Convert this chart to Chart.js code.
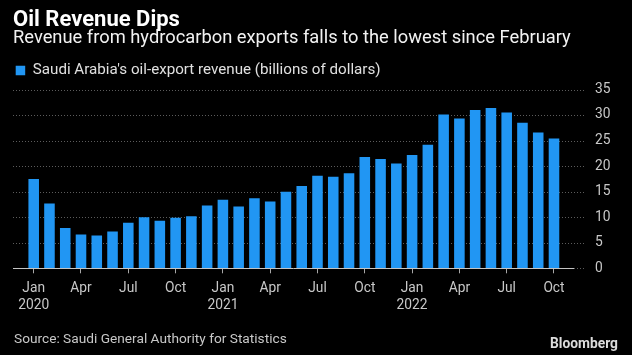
<!DOCTYPE html>
<html>
<head>
<meta charset="utf-8">
<script src="https://cdn.jsdelivr.net/npm/chart.js@4/dist/chart.umd.min.js"></script>
<style>
  html, body { margin: 0; padding: 0; background: #000; }
  #wrap { position: relative; width: 632px; height: 355px; overflow: hidden; background: #000; }
  #c { position: absolute; left: 0; top: 0; }
  .foot { position: absolute; white-space: nowrap; font-family: Roboto, "Liberation Sans", sans-serif; }
</style>
</head>
<body>
<div id="wrap">
  <canvas id="c" width="632" height="355"></canvas>
  <div id="source" class="foot">Source: Saudi General Authority for Statistics</div>
  <div id="brand" class="foot">Bloomberg</div>
</div>
<script>
// ---- data ----
const categories = [
  'Jan 2020','Feb 2020','Mar 2020','Apr 2020','May 2020','Jun 2020','Jul 2020','Aug 2020','Sep 2020','Oct 2020','Nov 2020','Dec 2020',
  'Jan 2021','Feb 2021','Mar 2021','Apr 2021','May 2021','Jun 2021','Jul 2021','Aug 2021','Sep 2021','Oct 2021','Nov 2021','Dec 2021',
  'Jan 2022','Feb 2022','Mar 2022','Apr 2022','May 2022','Jun 2022','Jul 2022','Aug 2022','Sep 2022','Oct 2022'
];
const oilRevenue = [
  17.5, 12.7, 7.9, 6.6, 6.4, 7.2, 8.9, 10.0, 9.3, 9.9, 10.2, 12.3,
  13.4, 12.1, 13.7, 13.1, 15.0, 16.1, 18.1, 17.9, 18.6, 21.8, 21.4, 20.5,
  22.2, 24.2, 30.1, 29.3, 31.0, 31.4, 30.5, 28.5, 26.6, 25.4
];
const shownMonths = ['Jan', 'Apr', 'Jul', 'Oct'];
const yTicks = [0, 5, 10, 15, 20, 25, 30, 35];
const seriesLabel = "Saudi Arabia's oil-export revenue (billions of dollars)";
const titleText = 'Oil Revenue Dips';
const subtitleText = 'Revenue from hydrocarbon exports falls to the lowest since February';

// ---- font sizing helper ----
const FAMILY = 'Roboto, "Liberation Sans", sans-serif';
const mctx = document.createElement('canvas').getContext('2d');
function fitSize(text, weight, target) {
  mctx.font = weight + ' 100px ' + FAMILY;
  return 100 * target / mctx.measureText(text).width;
}
const tS = fitSize(titleText, 'bold', 167);
const sS = fitSize(subtitleText, 'normal', 558);
const lS = fitSize(seriesLabel, 'normal', 348);
const tickS = fitSize('2020', 'normal', 31);
const srcS = fitSize(document.getElementById('source').textContent, 'normal', 273);
const brS = fitSize('Bloomberg', 'bold', 68);

const src = document.getElementById('source');
src.style.fontSize = srcS + 'px'; src.style.lineHeight = srcS + 'px';
src.style.left = '14px'; src.style.top = (338.7 - srcS / 2) + 'px'; src.style.color = '#c8c8c8';
const br = document.getElementById('brand');
br.style.fontSize = brS + 'px'; br.style.lineHeight = brS + 'px'; br.style.fontWeight = 'bold';
br.style.right = '14px'; br.style.top = (344 - brS / 2) + 'px'; br.style.color = '#dcdcdc';

// vertical layout targets
const titleCenter = 20, subCenter = 38.3, legendCenter = 70.5, plotTop = 89.5, plotBottom = 268.3;
const legPad = 2.7;
const titleBottom = titleCenter + tS / 2;
const legendTop = legendCenter - legPad - lS / 2;
const legendExtra = plotTop - (legendTop + lS + legPad + 10);

// category padding (in category units) so the axis extends past first/last bars
const padLeftCat = 1.313, padRightCat = 1.967;

const gridPlugin = {
  id: 'dottedGrid',
  beforeLayout(chart) {
    const lg = chart.legend;
    if (lg && !lg._extraPatched) {
      const orig = lg.fit.bind(lg);
      lg.fit = function () { orig(); this.height += legendExtra; };
      lg._extraPatched = true;
    }
  },
  beforeDatasetsDraw(chart) {
    const {ctx, chartArea, scales} = chart;
    const y = scales.y;
    ctx.save();
    ctx.strokeStyle = '#5c5c5c';
    ctx.lineWidth = 1;
    ctx.setLineDash([1, 2]);
    y.ticks.forEach(t => {
      const py = Math.round(y.getPixelForValue(t.value)) + 0.5;
      ctx.beginPath();
      ctx.moveTo(chartArea.left, py);
      ctx.lineTo(chartArea.right, py);
      ctx.stroke();
    });
    ctx.restore();
  },
  afterDatasetsDraw(chart) {
    const {ctx, chartArea, scales} = chart;
    const py = Math.round(scales.y.getPixelForValue(0)) + 0.5;
    ctx.save();
    ctx.strokeStyle = '#c4c4c4';
    ctx.lineWidth = 1;
    ctx.beginPath();
    ctx.moveTo(chartArea.left, py);
    ctx.lineTo(chartArea.right - 11, py);
    ctx.stroke();
    ctx.restore();
  }
};

new Chart(document.getElementById('c'), {
  type: 'bar',
  data: {
    labels: categories,
    datasets: [{
      label: seriesLabel,
      data: oilRevenue,
      backgroundColor: '#2196f3',
      borderWidth: 0,
      barPercentage: 0.67,
      categoryPercentage: 1.0
    }]
  },
  options: {
    responsive: false,
    animation: false,
    devicePixelRatio: 1,
    layout: { padding: { left: 13, right: 0, top: 0, bottom: 0 } },
    plugins: {
      title: {
        display: true, text: titleText, align: 'start', color: '#ffffff',
        font: { family: FAMILY, weight: 'bold', size: tS, lineHeight: 1 },
        padding: { top: titleCenter - tS / 2, bottom: 0 }
      },
      subtitle: {
        display: true, text: subtitleText, align: 'start', color: '#f2f2f2',
        font: { family: FAMILY, weight: 'normal', size: sS, lineHeight: 1 },
        padding: { top: subCenter - sS / 2 - titleBottom, bottom: legendTop - (subCenter + sS / 2) }
      },
      legend: {
        display: true, position: 'top', align: 'start',
        labels: {
          color: '#e0e0e0', boxWidth: 9.5, boxHeight: 9.5, padding: legPad,
          font: { family: FAMILY, size: lS }
        }
      },
      tooltip: { enabled: false }
    },
    scales: {
      x: {
        type: 'category',
        offset: false,
        afterBuildTicks(scale) {
          const n = scale.getLabels().length;
          scale._startValue = -padLeftCat;
          scale._valueRange = (n - 1) + padLeftCat + padRightCat;
        },
        afterFit(scale) { scale.height = 355 - plotBottom; },
        grid: {
          display: true, drawOnChartArea: false, drawTicks: true, tickLength: 5, offset: false,
          color: (c) => (shownMonths.includes(String(categories[c.index] || '').slice(0, 3)) ? '#a8a8a8' : 'rgba(0,0,0,0)'),
          tickColor: (c) => (shownMonths.includes(String(categories[c.index] || '').slice(0, 3)) ? '#a8a8a8' : 'rgba(0,0,0,0)'),
          lineWidth: 1
        },
        border: { display: false },
        ticks: {
          autoSkip: false, maxRotation: 0, minRotation: 0, padding: 6,
          color: '#c8c8c8',
          font: { family: FAMILY, size: tickS, lineHeight: 1.28 },
          callback(value, index) {
            const [m, yr] = categories[index].split(' ');
            if (!shownMonths.includes(m)) return '';
            return m === 'Jan' ? [m, yr] : m;
          }
        }
      },
      y: {
        position: 'right',
        min: 0, max: 35,
        afterBuildTicks(scale) { scale.ticks = yTicks.map(v => ({ value: v })); },
        afterFit(scale) { scale.width = 47; },
        grid: { display: false, drawTicks: false },
        border: { display: false },
        ticks: {
          padding: 10, color: '#c8c8c8',
          font: { family: FAMILY, size: tickS }
        }
      }
    }
  },
  plugins: [gridPlugin]
});
</script>
</body>
</html>
